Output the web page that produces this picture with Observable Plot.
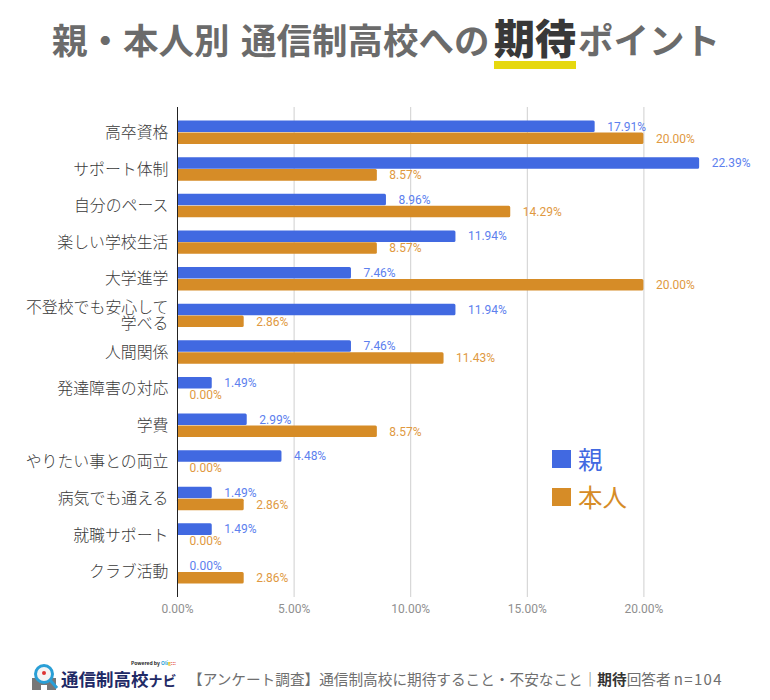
<!DOCTYPE html>
<html lang="ja"><head><meta charset="utf-8">
<script src="https://cdn.jsdelivr.net/npm/d3@7"></script>
<script src="https://cdn.jsdelivr.net/npm/@observablehq/plot@0.6"></script>
<style>
html,body{margin:0;padding:0;background:#fff;width:770px;height:700px;overflow:hidden}
body{position:relative;font-family:"Noto Sans CJK JP","Noto Sans",sans-serif}
#title{position:absolute;left:0;top:0;width:770px;height:60px;font-weight:700;color:#6b6b6b}
#title span{position:absolute;top:11px;white-space:nowrap;font-size:35.5px;line-height:56px}
#title b{position:absolute;left:494px;top:8px;font-size:41px;line-height:56px;color:#383838;white-space:nowrap}
#mark{position:absolute;left:494px;top:61px;width:82px;height:8px;background:#e6d80f}
#chart{position:absolute;left:0;top:90px}
.lg{position:absolute;left:552px;display:flex;align-items:center;font-size:24.5px;font-weight:400;height:24px;line-height:24px}
.lg i{display:block;width:19px;height:18px;margin-right:7px}
#brand{position:absolute;left:61px;top:670px;font-size:17.5px;font-weight:700;color:#1f2a66;line-height:18px;white-space:nowrap}
#foot{position:absolute;left:188px;top:667px;font-size:14.65px;line-height:24px;color:#6f6f6f;white-space:nowrap}
#foot b{color:#333}
#foot em{font-style:normal;font-size:15px;letter-spacing:1.3px}
#pow{position:absolute;left:131px;top:660px;font-size:5px;line-height:6px;color:#222;font-weight:700;white-space:nowrap}
#logo{position:absolute;left:32px;top:664px}
</style></head><body>
<div id="title"><span style="left:52px">親・本人別</span> <span style="left:241px">通信制高校への</span><b>期待</b><span style="left:578px">ポイント</span></div>
<div id="mark"></div>
<div id="chart"></div>
<div class="lg" style="top:447px;color:#4169e1"><i style="background:#4169e1"></i>親</div>
<div class="lg" style="top:485px;color:#d68c27"><i style="background:#d68c27"></i>本人</div>
<svg id="logo" width="28" height="26" viewBox="0 0 28 26">
<rect x="0" y="14" width="24" height="12" fill="#777"/><rect x="9" y="21" width="6" height="5" fill="#fff"/>
<circle cx="12" cy="10" r="8.5" fill="#f4f4f4" stroke="#2a9fd6" stroke-width="3"/>
<circle cx="12" cy="9" r="2" fill="#d33"/>
<line x1="18" y1="16" x2="25" y2="24" stroke="#2a9fd6" stroke-width="3"/>
</svg>
<div id="pow">Powered by <span style="color:#2a9fd6">Oli</span><span style="color:#e6b800">g</span><span style="color:#d33">:::</span></div>
<div id="brand">通信制高校<span style="font-size:14px">ナビ</span></div>
<div id="foot">【アンケート調査】通信制高校に期待すること・不安なこと｜<b>期待</b>回答者 <em>n=104</em></div>
<script>
const categories = ["高卒資格","サポート体制","自分のペース","楽しい学校生活","大学進学","不登校でも安心して\n学べる","人間関係","発達障害の対応","学費","やりたい事との両立","病気でも通える","就職サポート","クラブ活動"];
const parentValues = [17.91,22.39,8.96,11.94,7.46,11.94,7.46,1.49,2.99,4.48,1.49,1.49,0.00];
const selfValues = [20.00,8.57,14.29,8.57,20.00,2.86,11.43,0.00,8.57,0.00,2.86,0.00,2.86];
const xTicks = [0,5,10,15,20];
const parentRows = categories.map((c,i)=>({c,v:parentValues[i]}));
const selfRows = categories.map((c,i)=>({c,v:selfValues[i]}));
const pct = d => d.toFixed(2)+"%";
const font = "Roboto";
const plot = Plot.plot({
  width:770,height:530,marginLeft:177,marginRight:10,marginTop:17,marginBottom:23,
  style:{background:"transparent",overflow:"visible"},
  x:{domain:[0,25],ticks:xTicks,label:null},
  y:{domain:categories,paddingInner:0.36,paddingOuter:0.18,align:0.5,inset:7,round:false,label:null},
  marks:[
    Plot.gridX(xTicks,{stroke:"#cfcfcf",strokeOpacity:1}),
    Plot.barX(parentRows,{x:"v",y:"c",fill:"#4169e1",insetBottom:11.9,r:1.5}),
    Plot.barX(selfRows,{x:"v",y:"c",fill:"#d68c27",insetTop:11.9,r:1.5}),
    Plot.ruleX([0],{stroke:"#222"}),
    Plot.text(parentRows,{x:"v",y:"c",text:d=>pct(d.v),dx:12,dy:-6,textAnchor:"start",fill:"#5d80ee",fontSize:12,fontFamily:font}),
    Plot.text(selfRows,{x:"v",y:"c",text:d=>pct(d.v),dx:12,dy:6,textAnchor:"start",fill:"#e0993f",fontSize:12,fontFamily:font}),
    Plot.axisX(xTicks,{tickSize:0,tickPadding:7,tickFormat:pct,fill:"#8f8f8f",fontSize:12,fontFamily:font,label:null}),
    Plot.axisY({tickSize:0,tickPadding:9,fill:"#3a3a3a",fontSize:15.9,fontWeight:300,fontFamily:'"Noto Sans CJK JP"',lineHeight:1,label:null,textOverflow:null,lineWidth:Infinity})
  ]
});
document.getElementById("chart").appendChild(plot);
</script>
</body></html>
